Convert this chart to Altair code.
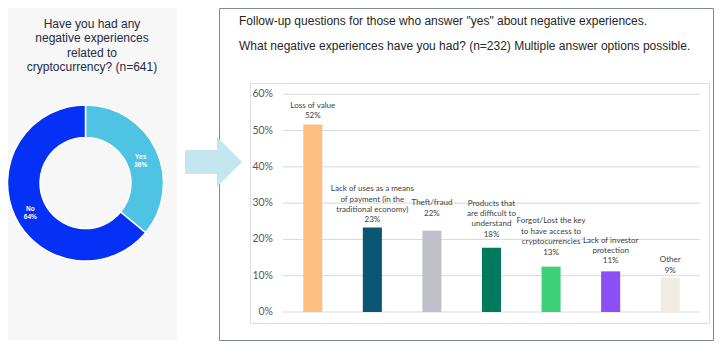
import altair as alt
import pandas as pd

# ---------------- data ----------------
pie_answers = ["Yes", "No"]
pie_shares = [36, 64]
pie_labels = ["Yes\n36%", "No\n64%"]

categories = ["Loss of value", "Lack of uses", "Theft/fraud", "Difficult products",
              "Forgot/Lost key", "Lack of investor protection", "Other"]
shares = [0.517, 0.233, 0.224, 0.177, 0.125, 0.112, 0.094]
bar_labels = ["Loss of value\n52%",
              "Lack of uses as a means\nof payment (in the\ntraditional economy)\n23%",
              "Theft/fraud\n22%",
              "Products that\nare difficult to\nunderstand\n18%",
              "Forgot/Lost the key\nto have access to\ncryptocurrencies\n13%",
              "Lack of investor\nprotection\n11%",
              "Other\n9%"]
y_ticks = [0.0, 0.1, 0.2, 0.3, 0.4, 0.5, 0.6]
y_tick_labels = ["0%", "10%", "20%", "30%", "40%", "50%", "60%"]

left_title = "Have you had any\nnegative experiences\nrelated to\ncryptocurrency? (n=641)"
right_text = ("Follow-up questions for those who answer \"yes\" about negative experiences.\n"
              "What negative experiences have you had? (n=232) Multiple answer options possible.")

# ---------------- styles ----------------
pie_colors = ["#4fc3e3", "#0530f5"]
bar_colors = ["#ffbf80", "#0b5675", "#bfc0c7", "#007a5e", "#3ed178", "#8b4ff5", "#f0ece2"]
label_extra_gap = [1, 0, 10, 6, 7, 3, 0]   # extra pixel lift of each bar label (as placed in the original)
LABEL_FONT = "Lato, Liberation Sans, Arial"
SANS = "Liberation Sans, Arial, sans-serif"
LINE_H = 10.4

pie_df = pd.DataFrame({"answer": pie_answers, "pct": pie_shares,
                       "label": pie_labels, "idx": list(range(len(pie_answers)))})
bar_df = pd.DataFrame({"cat": categories, "share": shares, "label": bar_labels})
tick_df = pd.DataFrame({"tick": y_ticks, "tlabel": y_tick_labels})
one = pd.DataFrame({"k": [0]})
left_df = pd.DataFrame({"t": [left_title]})
right_df = pd.DataFrame({"t": [right_text]})

y_scale = alt.Scale(domain=[0, 0.6], range=[304, 86.3])
x_scale = alt.Scale(domain=categories, range=[275, 692], paddingInner=0.68, paddingOuter=0.34)

left_bg = alt.Chart(one).mark_rect(fill="#f7f7f7").encode(
    x=alt.value(0), x2=alt.value(169), y=alt.value(0), y2=alt.value(332))

right_frame = alt.Chart(one).mark_rect(fill="white", stroke="#7f8893", strokeWidth=1).encode(
    x=alt.value(211.5), x2=alt.value(705.5), y=alt.value(0.5), y2=alt.value(332.5))

inner_box = alt.Chart(one).mark_rect(fill="white", stroke="#dedede", strokeWidth=1).encode(
    x=alt.value(242.5), x2=alt.value(701.5), y=alt.value(75.5), y2=alt.value(315.5))

arrow_path = "M -1 -0.42 L 0.12 -0.42 L 0.12 -0.877 L 1 0 L 0.12 0.877 L 0.12 0.42 L -1 0.42 Z"
arrow = alt.Chart(one).mark_point(shape=arrow_path, filled=True, fill="#c3e6ef",
                                  opacity=1, strokeWidth=0, size=3249).encode(
    x=alt.value(205.5), y=alt.value(154))

left_text = alt.Chart(left_df).mark_text(
    align="center", baseline="alphabetic", fontSize=12, font=SANS, color="#1f2a44",
    lineBreak="\n", lineHeight=14.3).encode(
    x=alt.value(84), y=alt.value(20), text="t:N")

right_txt = alt.Chart(right_df).mark_text(
    align="left", baseline="alphabetic", fontSize=12, font=SANS, color="#262626",
    lineBreak="\n", lineHeight=25).encode(
    x=alt.value(231), y=alt.value(17), text="t:N")

theta = alt.Theta("pct:Q", stack=True)
donut = alt.Chart(pie_df).mark_arc(radius=78, radius2=45.5, stroke="white", strokeWidth=1.5).encode(
    theta=theta,
    order=alt.Order("idx:Q"),
    color=alt.Color("answer:N", scale=alt.Scale(domain=pie_answers, range=pie_colors), legend=None),
    x=alt.value(77.5), y=alt.value(175))
donut_labels = alt.Chart(pie_df).mark_text(
    radius=61, fontSize=6.5, fontWeight="bold", color="white", font=SANS,
    lineBreak="\n", lineHeight=8, baseline="middle", align="center").encode(
    theta=theta, order=alt.Order("idx:Q"), text="label:N",
    x=alt.value(77.5), y=alt.value(175))
pie = alt.layer(donut, donut_labels)

grid = alt.Chart(tick_df).mark_rule(color="#d9d9d9", strokeWidth=1).encode(
    y=alt.Y("tick:Q", scale=y_scale, axis=None), x=alt.value(275), x2=alt.value(692))
ylabels = alt.Chart(tick_df).mark_text(
    align="right", baseline="middle", fontSize=10.5, font=LABEL_FONT, color="#595959").encode(
    y=alt.Y("tick:Q", scale=y_scale, axis=None), x=alt.value(265), text="tlabel:N")

bars = alt.Chart(bar_df).mark_bar().encode(
    x=alt.X("cat:N", sort=categories, scale=x_scale, axis=None),
    y=alt.Y("share:Q", scale=y_scale, axis=None),
    color=alt.Color("cat:N", scale=alt.Scale(domain=categories, range=bar_colors), legend=None))

# one text layer per bar: multi-line text runs downward from its first line,
# so lift the first line by the number of lines below it
label_layers = []
for cat, lab, extra in zip(categories, bar_labels, label_extra_gap):
    n_lines = len(lab.split("\n"))
    label_layers.append(
        alt.Chart(bar_df).transform_filter(alt.datum.cat == cat).mark_text(
            align="center", baseline="alphabetic", dy=-5 - extra - (n_lines - 1) * LINE_H,
            fontSize=8, font=LABEL_FONT, color="#404040",
            lineBreak="\n", lineHeight=LINE_H).encode(
            x=alt.X("cat:N", sort=categories, scale=x_scale, axis=None),
            y=alt.Y("share:Q", scale=y_scale, axis=None),
            text="label:N"))
barchart = alt.layer(grid, ylabels, bars, *label_layers)

chart = alt.layer(
    left_bg, right_frame, inner_box, left_text, right_txt, pie, barchart, arrow
).resolve_scale(color="independent", x="independent", y="independent", theta="independent").properties(
    width=706, height=339, autosize="none", padding=0
).configure_view(strokeWidth=0)

chart.save("out.html", embed_options={"renderer": "svg", "actions": False})
